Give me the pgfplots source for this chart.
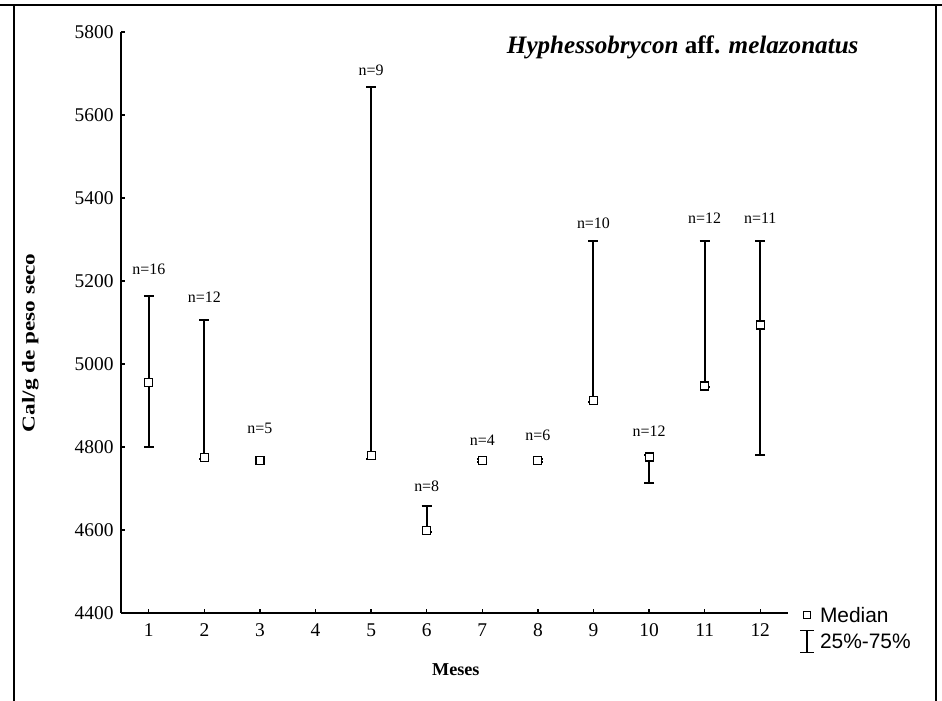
\documentclass[border=0pt]{standalone}
\usepackage{pgfplots}
\usepackage{pgfplotstable}
\pgfplotsset{compat=1.18}
\usepackage{fontspec}
\setmainfont{Liberation Serif}
\newfontfamily\arialfont{Liberation Sans}

% monthly calorific content: median and interquartile range
\pgfplotstableread{
x  med   lo    hi
1  4955  4800  5165
2  4775  4770  5105
3  4767  4763  4770
5  4780  4770  5668
6  4598  4595  4658
7  4768  4765  4770
8  4768  4765  4770
9  4912  4908  5296
10 4776  4713  4780
11 4947  4945  5296
12 5094  4781  5296
}\cal

% sample sizes and where they are written
\pgfplotstableread{
x  y     lab
1  5229  n=16
2  5161  n=12
3  4846  n=5
5  5708  n=9
6  4706  n=8
7  4817  n=4
8  4829  n=6
9  5340  n=10
10 4839  n=12
11 5352  n=12
12 5352  n=11
}\ncount

\begin{document}
\begin{tikzpicture}[x=1bp,y=1bp]
\useasboundingbox (0,0) rectangle (942,701);
% page frame
\draw[line width=2bp] (0,696) -- (942,696);
\draw[line width=2bp] (14,0) -- (14,697);
\draw[line width=2bp] (936,0) -- (936,697);
% title
\node[anchor=east, font=\fontsize{25.2}{28}\selectfont\bfseries] at (862,654)
  {\textit{Hyphessobrycon} aff. \textit{melazonatus}};
\begin{axis}[
  at={(121bp,88bp)}, anchor=origin,
  scale only axis, width=667bp, height=581bp,
  xmin=0.5, xmax=12.5, ymin=4400, ymax=5800,
  xtick={1,...,12}, ytick={4400,4600,...,5800},
  axis lines*=left,
  axis line style={line width=1.6bp, -},
  tick align=inside, major tick length=4bp,
  tick style={line width=1.4bp, black},
  /pgf/number format/assume math mode=true,
  /pgf/number format/set thousands separator={},
  ticklabel style={font=\fontsize{19.5}{22}\selectfont},
  xticklabel style={yshift=-7bp},
  yticklabel style={xshift=-4bp},
  xlabel={Meses}, ylabel={Cal/g de peso seco},
  xlabel style={font=\fontsize{18.2}{21}\selectfont\bfseries, at={(axis description cs:0.502,-0.098)}, anchor=center},
  ylabel style={font=\fontsize{18.2}{21}\selectfont\bfseries, at={(axis description cs:-0.136,0.465)}, anchor=center, xscale=1.28},
  clip=false,
]
\addplot[black, line width=2bp, mark=square*, mark size=4bp,
  mark options={fill=white, line width=1.1bp},
  only marks,
  error bars/.cd, y dir=both, y explicit,
  error bar style={line width=2bp, black},
  error mark options={rotate=90, mark size=5bp, line width=2bp}]
  table[x=x, y=med, y error plus expr=\thisrow{hi}-\thisrow{med},
        y error minus expr=\thisrow{med}-\thisrow{lo}] {\cal};
\addplot[only marks, mark=none, nodes near coords, point meta=explicit symbolic,
  every node near coord/.style={anchor=center, font=\fontsize{16}{18}\selectfont}]
  table[x=x, y=y, meta=lab] {\ncount};
\end{axis}
% legend
\begin{axis}[
  at={(121bp,88bp)}, anchor=origin,
  scale only axis, width=667bp, height=581bp,
  xmin=0.5, xmax=12.5, ymin=4400, ymax=5800,
  hide axis, clip=false,
  legend style={draw=none, fill=none, at={(axis description cs:1.0165,0.014)}, anchor=north west,
    font=\fontsize{21}{24}\selectfont\arialfont, row sep=4bp, inner sep=0pt,
    /tikz/every odd column/.append style={column sep=3bp}},
  legend cell align=left,
]
\addlegendimage{only marks, mark=square*, mark size=3.5bp, mark options={fill=white, draw=black, line width=1bp}}
\addlegendentry{Median}
\addlegendimage{legend image code/.code={
  \draw[line width=1.8bp] (0.3cm,-11bp) -- (0.3cm,11bp);
  \draw[line width=1.8bp] (0.3cm-7bp,11bp) -- (0.3cm+7bp,11bp);
  \draw[line width=1.8bp] (0.3cm-7bp,-11bp) -- (0.3cm+7bp,-11bp);}}
\addlegendentry{25\%-75\%}
\end{axis}
\end{tikzpicture}
\end{document}
